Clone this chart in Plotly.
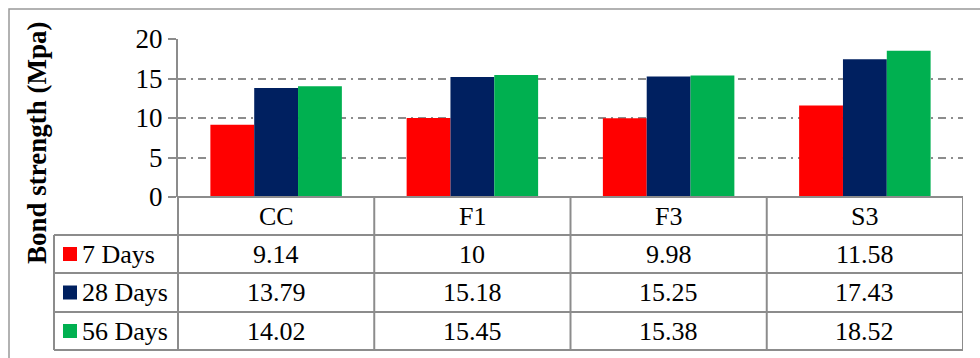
import plotly.graph_objects as go

categories = ["CC", "F1", "F3", "S3"]
series_names = ["7 Days", "28 Days", "56 Days"]
days7 = [9.14, 10, 9.98, 11.58]
days28 = [13.79, 15.18, 15.25, 17.43]
days56 = [14.02, 15.45, 15.38, 18.52]
value_labels = [["9.14", "10", "9.98", "11.58"],
                ["13.79", "15.18", "15.25", "17.43"],
                ["14.02", "15.45", "15.38", "18.52"]]
colors = ["#FF0000", "#002060", "#00B050"]
y_ticks = [0, 5, 10, 15, 20]

W, H = 980, 358
FONT = "Liberation Serif"
GRID = "#8c8c8c"
FS = 26

def py(px):  # pixel-from-top -> paper
    return 1 - px / H

def pxx(px):
    return px / W

x_left, x_right = 178, 963
y_top, y_zero = 39, 197
row_edges = [197, 235, 273, 312, 350]
legend_left = 54

fig = go.Figure()
for name, vals, col in zip(series_names, [days7, days28, days56], colors):
    fig.add_trace(go.Bar(x=list(range(len(categories))), y=vals, name=name,
                         marker=dict(color=col, line=dict(width=0)), showlegend=False))

fig.update_layout(
    template="none",
    width=W, height=H, margin=dict(l=0, r=0, t=0, b=0, pad=0, autoexpand=False),
    paper_bgcolor="white", plot_bgcolor="white",
    font=dict(family=FONT, size=FS, color="black"),
    barmode="group", bargap=0.33, bargroupgap=0,
    xaxis=dict(domain=[pxx(x_left), pxx(x_right)], range=[-0.5, 3.5], automargin=False,
               showticklabels=False, showgrid=False, zeroline=False,
               showline=False, ticks=""),
    yaxis=dict(domain=[py(y_zero), py(y_top)], range=[0, 20], automargin=False,
               tickvals=y_ticks, ticktext=[str(v) for v in y_ticks],
               showgrid=True, gridcolor=GRID, gridwidth=2, griddash="8px,5px,2px,5px",
               zeroline=False, showline=True, linecolor=GRID, linewidth=2,
               ticks="outside", ticklen=8, tickwidth=2, tickcolor=GRID,
               tickfont=dict(family=FONT, size=27, color="black")),
)

shapes = []
line = dict(color=GRID, width=2)
# outer chart border
shapes.append(dict(type="rect", xref="paper", yref="paper", x0=pxx(9), x1=pxx(990),
                   y0=py(370), y1=py(9), line=dict(color="#999999", width=1.5)))
# axis line extended down through table
shapes.append(dict(type="line", xref="paper", yref="paper", x0=pxx(x_left), x1=pxx(x_left),
                   y0=py(row_edges[-1]), y1=py(y_zero), line=line))
# horizontal table lines
for i, ye in enumerate(row_edges):
    x0 = x_left if i == 0 else legend_left
    shapes.append(dict(type="line", xref="paper", yref="paper", x0=pxx(x0), x1=pxx(x_right),
                       y0=py(ye), y1=py(ye), line=line))
# vertical dividers between categories and right edge
for i in range(1, len(categories) + 1):
    shapes.append(dict(type="line", xref="x", yref="paper", x0=i - 0.5, x1=i - 0.5,
                       y0=py(row_edges[-1]), y1=py(row_edges[0]), line=line))
# legend column left edge
shapes.append(dict(type="line", xref="paper", yref="paper", x0=pxx(legend_left), x1=pxx(legend_left),
                   y0=py(row_edges[-1]), y1=py(row_edges[1]), line=line))
# legend keys
for r, col in enumerate(colors):
    yc = (row_edges[r + 1] + row_edges[r + 2]) / 2
    shapes.append(dict(type="rect", xref="paper", yref="paper", x0=pxx(63), x1=pxx(77),
                       y0=py(yc + 7), y1=py(yc - 7), fillcolor=col, line=dict(width=0)))

annotations = []
yc_head = (row_edges[0] + row_edges[1]) / 2
for i, c in enumerate(categories):
    annotations.append(dict(x=i, y=py(yc_head), xref="x", yref="paper", text=c,
                            showarrow=False, xanchor="center", yanchor="middle",
                            font=dict(family=FONT, size=FS)))
for r, name in enumerate(series_names):
    yc = (row_edges[r + 1] + row_edges[r + 2]) / 2
    annotations.append(dict(x=pxx(80), y=py(yc), xref="paper", yref="paper", text=name,
                            showarrow=False, xanchor="left", yanchor="middle",
                            font=dict(family=FONT, size=FS)))
    for i, v in enumerate(value_labels[r]):
        annotations.append(dict(x=i, y=py(yc), xref="x", yref="paper", text=v,
                                showarrow=False, xanchor="center", yanchor="middle",
                                font=dict(family=FONT, size=FS)))
annotations.append(dict(x=pxx(37), y=py(143), xref="paper", yref="paper",
                        text="<b>Bond strength (Mpa)</b>", textangle=-90, showarrow=False,
                        xanchor="center", yanchor="middle",
                        font=dict(family=FONT, size=27)))

fig.update_layout(shapes=shapes, annotations=annotations)
fig.write_html("out.html")
